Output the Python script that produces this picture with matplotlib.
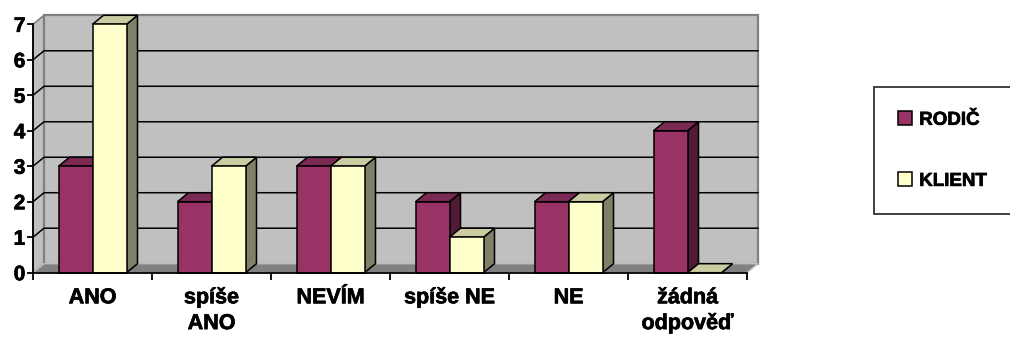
import matplotlib
matplotlib.use('Agg')
import matplotlib.pyplot as plt
import matplotlib.patheffects as pe
from matplotlib.patches import Rectangle, Polygon, Patch

plt.rcParams['font.family'] = ['Liberation Sans', 'DejaVu Sans']
plt.rcParams['font.weight'] = 'bold'

#-- data
categories = ['ANO', 'spíše\nANO', 'NEVÍM', 'spíše NE', 'NE', 'žádná\nodpověď']
rodic = [3, 2, 3, 2, 2, 4]
klient = [7, 3, 3, 1, 2, 0]
series_names = ['RODIČ', 'KLIENT']
yticks = [0, 1, 2, 3, 4, 5, 6, 7]

#-- colours (front, top, side)
col_rodic = ('#993366', '#7a2952', '#4f1b36')
col_klient = ('#ffffcc', '#cccca3', '#808068')
wall = '#c0c0c0'
floor = '#808080'
edge = '#808080'

#-- slightly heavier text strokes
heavy = [pe.withStroke(linewidth=0.5, foreground='black')]

W, H = 1010, 340
fig = plt.figure(figsize=(W / 100, H / 100), dpi=100)
fig.patch.set_facecolor('white')

x0px, x1px = 33, 747
y0px, y7px = 272.7, 24.3
ax = fig.add_axes([x0px / W, (H - y0px) / H, (x1px - x0px) / W, (y0px - y7px) / H])
ncat = len(categories)
ymax = yticks[-1]
ax.set_xlim(0, ncat)
ax.set_ylim(0, ymax)
ax.set_facecolor('none')

#-- depth of the 3d effect, pixels -> data units
dx = 11 / ((x1px - x0px) / ncat)
dy = 9 / ((y0px - y7px) / ymax)

#-- walls and floor
ax.add_patch(Polygon([(0, 0), (dx, dy), (dx, ymax + dy), (0, ymax)], closed=True,
                     facecolor=wall, edgecolor=edge, lw=1.2, clip_on=False, zorder=0.5))
ax.add_patch(Rectangle((dx, dy), ncat, ymax, facecolor=wall, edgecolor=edge,
                       lw=1.6, clip_on=False, zorder=0.5))
ax.add_patch(Polygon([(0, 0), (ncat, 0), (ncat + dx, dy), (dx, dy)], closed=True,
                     facecolor=floor, edgecolor=wall, lw=1.0, clip_on=False, zorder=0.6))

#-- gridlines on side and back wall
for v in yticks[1:-1]:
    ax.plot([0, dx, ncat + dx], [v, v + dy, v + dy], color='black', lw=1.1,
            clip_on=False, zorder=0.7)


def bar3d(x, w, h, cols):
    front, top, side = cols
    kw = dict(edgecolor='black', lw=1.1, clip_on=False, zorder=3, joinstyle='miter')
    ax.add_patch(Polygon([(x + w, 0), (x + w + dx, dy), (x + w + dx, h + dy), (x + w, h)],
                         closed=True, facecolor=side, **kw))
    ax.add_patch(Polygon([(x, h), (x + w, h), (x + w + dx, h + dy), (x + dx, h + dy)],
                         closed=True, facecolor=top, **kw))
    if h > 0:
        ax.add_patch(Rectangle((x, 0), w, h, facecolor=front, **kw))


bw = 34 / 119
for i in range(ncat):
    bar3d(i + 0.5 - bw, bw, rodic[i], col_rodic)
    bar3d(i + 0.5, bw, klient[i], col_klient)

#-- axes
for s in ['top', 'right']:
    ax.spines[s].set_visible(False)
for s in ['left', 'bottom']:
    ax.spines[s].set_color('black')
    ax.spines[s].set_linewidth(1.3)
    ax.spines[s].set_zorder(4)

ax.set_yticks(yticks)
ax.set_yticklabels([str(v) for v in yticks], fontsize=15, fontweight='bold')
ax.tick_params(axis='y', length=4, width=1.3, pad=1.5)

ax.set_xticks(range(ncat + 1))
ax.set_xticklabels([])
ax.set_xticks([i + 0.5 for i in range(ncat)], minor=True)
ax.set_xticklabels(categories, minor=True, fontsize=15.5, fontweight='bold', linespacing=1.3)
ax.tick_params(axis='x', which='major', length=5, width=1.3)
ax.tick_params(axis='x', which='minor', length=0, pad=10.5)

for t in ax.get_yticklabels() + ax.get_xticklabels(minor=True):
    t.set_path_effects(heavy)

#-- legend
handles = [Patch(facecolor=col_rodic[0], edgecolor='black', lw=1.1),
           Patch(facecolor=col_klient[0], edgecolor='black', lw=1.1)]
leg = fig.legend(handles, series_names, loc='upper left',
                 bbox_to_anchor=(874 / W, 1 - 87 / H - 0.01, 0.3, 0.01), mode='expand',
                 prop={'size': 13.5, 'weight': 'bold'}, frameon=True, fancybox=False,
                 handlelength=0.75, handleheight=0.75, handletextpad=0.36,
                 labelspacing=2.33, borderpad=1.3, borderaxespad=0)
leg.get_frame().set_edgecolor('black')
leg.get_frame().set_linewidth(1.3)
for t in leg.get_texts():
    t.set_path_effects(heavy)

fig.savefig('out.png', dpi=100)
